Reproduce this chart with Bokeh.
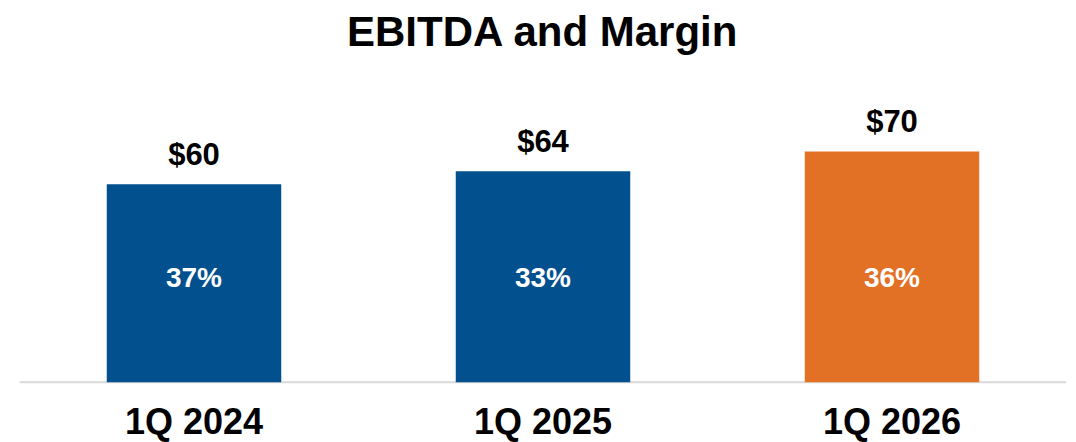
from bokeh.plotting import figure
from bokeh.models import ColumnDataSource, Range1d, FactorRange, Span
from bokeh.core.properties import value
from bokeh.embed import file_html
from bokeh.resources import INLINE

# ---- data ----
categories = ["1Q 2024", "1Q 2025", "1Q 2026"]
ebitda = [60, 64, 70]
ebitda_labels = ["$60", "$64", "$70"]
margin_labels = ["37%", "33%", "36%"]
bar_colors = ["#03508F", "#03508F", "#E27126"]

FONT = "Liberation Sans"

source = ColumnDataSource(dict(
    cat=categories,
    val=ebitda,
    vlab=ebitda_labels,
    mlab=margin_labels,
    color=bar_colors,
    zero=[0] * len(categories),
))

p = figure(
    width=1076, height=442,
    x_range=FactorRange(*categories, range_padding=0),
    y_range=Range1d(-18.29, 97.87),
    output_backend="svg", toolbar_location=None,
    title="EBITDA and Margin",
    min_border_left=19, min_border_right=10, min_border_bottom=0, min_border_top=0,
)
p.title.align = "center"
p.title.text_font = FONT
p.title.text_font_size = "42px"
p.title.text_font_style = "bold"
p.title.text_color = "black"
p.title.standoff = 10

p.xaxis.visible = False
p.yaxis.visible = False
p.xgrid.visible = False
p.ygrid.visible = False
p.outline_line_color = None
p.background_fill_color = "white"
p.border_fill_color = "white"

baseline = Span(location=0, dimension="width", line_color="#d9d9d9", line_width=2, level="underlay")
p.add_layout(baseline)

p.vbar(x="cat", top="val", bottom=0, width=0.5, source=source,
       fill_color="color", line_color=None)

# value labels above bars
p.text(x="cat", y="val", text="vlab", source=source,
       text_font=value(FONT), text_font_style="bold", text_font_size="31px",
       text_color="black", text_align="center", text_baseline="alphabetic",
       y_offset=-30)

# margin labels inside bars
p.text(x="cat", y="zero", text="mlab", source=source,
       text_font=value(FONT), text_font_style="bold", text_font_size="28px",
       text_color="white", text_align="center", text_baseline="alphabetic",
       y_offset=-105)

# category labels below baseline
p.text(x="cat", y="zero", text="cat", source=source,
       text_font=value(FONT), text_font_style="bold", text_font_size="36px",
       text_color="black", text_align="center", text_baseline="alphabetic",
       y_offset=39)

open("out.html", "w").write(file_html(p, INLINE))
